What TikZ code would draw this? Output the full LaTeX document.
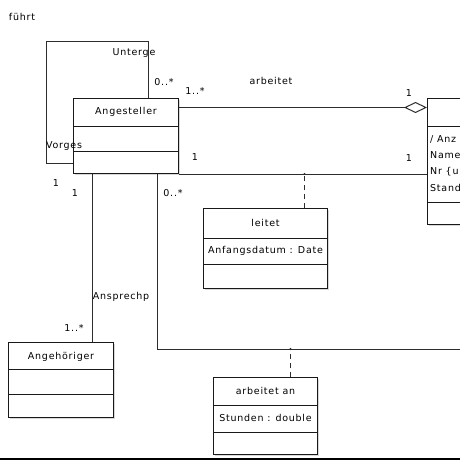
\documentclass[tikz,border=0pt]{standalone}
\usepackage{fontspec}
\setmainfont{DejaVu Sans}[LetterSpace=8]
\usetikzlibrary{positioning,calc,arrows.meta,shadows}
\definecolor{LineGray}{RGB}{45,45,45}
\definecolor{BoxBlack}{RGB}{25,25,25}
\tikzset{
  umlbox/.style={draw=BoxBlack,fill=white,line width=1pt,anchor=north west,
    inner sep=0pt,drop shadow={shadow xshift=1.3pt,shadow yshift=-1.3pt,fill=black!30}},
  sep/.style={draw=BoxBlack,line width=1pt},
  assoc/.style={draw=LineGray,line width=1pt},
  dashline/.style={draw=LineGray,line width=1pt,dash pattern=on 5pt off 4pt},
  txt/.style={font=\fontsize{9.5}{11}\selectfont,inner sep=0pt},
  attr/.style={txt,anchor=west},
}

\begin{document}
\begin{tikzpicture}[x=1pt,y=-1pt]
  \useasboundingbox (0,0) rectangle (460,460);
  \clip (0,0) rectangle (460,460);
  \coordinate (loopTL) at (46,42);
  \coordinate (farR) at (475,349);
  \node[umlbox,minimum width=105pt,minimum height=75pt] (ang) at (73,98) {};
  \node[umlbox,minimum width=100pt,minimum height=126pt] (abt) at (427,98) {};
  \node[umlbox,minimum width=124pt,minimum height=80pt] (leitet) at (203,208) {};
  \node[umlbox,minimum width=104pt,minimum height=77pt] (arb) at (213,377) {};
  \node[umlbox,minimum width=105pt,minimum height=75pt] (angh) at (8,342) {};
  \foreach \n/\a/\b in {ang/28/53,abt/28/104,leitet/30/56,arb/28/55,angh/27/52}{
    \draw[sep] ([yshift=-\a pt]\n.north west) -- ([yshift=-\a pt]\n.north east);
    \draw[sep] ([yshift=-\b pt]\n.north west) -- ([yshift=-\b pt]\n.north east);
  }
  \node[txt] (angT) at ([yshift=-14pt]ang.north) {Angesteller};
  \node[txt] (leitetT) at ([yshift=-15pt]leitet.north) {leitet};
  \node[txt] (leitetA) at ([yshift=-43pt]leitet.north) {Anfangsdatum : Date};
  \node[txt] (arbT) at ([yshift=-14pt]arb.north) {arbeitet an};
  \node[txt] (arbA) at ([yshift=-41pt]arb.north) {Stunden : double};
  \node[txt] (anghT) at ([yshift=-15pt]angh.north) {Angehöriger};
  \node[attr] (abtA) at ([xshift=3pt,yshift=-41pt]abt.north west) {/ Anz};
  \node[attr] (abtB) at ([xshift=3pt,yshift=-57pt]abt.north west) {Name};
  \node[attr] (abtC) at ([xshift=3pt,yshift=-74pt]abt.north west) {Nr \{ur};
  \node[attr] (abtD) at ([xshift=3pt,yshift=-90pt]abt.north west) {Stand};

  \draw[assoc] ([xshift=22.5pt]ang.north) |- (loopTL) |- ([yshift=-27.5pt]ang.west);
  \draw[assoc,-{Diamond[open,length=23pt,width=11pt]}]
    ([yshift=28.5pt]ang.east) -- ([yshift=28.5pt]ang.east -| abt.west);
  \draw[assoc] (ang.south east) -- (ang.south east -| abt.west);
  \draw[dashline] ([xshift=39pt]leitet.north) -- ([xshift=39pt]leitet.north |- ang.south);
  \draw[assoc] ([xshift=-33.5pt]ang.south) -- ([xshift=-33.5pt]ang.south |- angh.north);
  \draw[assoc] ([xshift=31.5pt]ang.south) |- (farR);
  \draw[dashline] ([xshift=25pt]arb.north) -- ([xshift=25pt]arb.north |- farR);
  \fill[LineGray] ([xshift=39pt]leitet.north |- ang.south) circle (1.2pt);
  \fill[LineGray] ([xshift=25pt]arb.north |- farR) circle (1.2pt);

  \node[txt] (fuehrt) at (22,17) {führt};
  \node[txt] (unterge) at (134,53) {Unterge};
  \node[txt] (vorges) at (64,146) {Vorges};
  \node[txt] (arbeitet) at (271,81) {arbeitet};
  \node[txt] (ansprechp) at (121,297) {Ansprechp};
  \node[txt] (mU) at (164,82) {0..*};
  \node[txt] (mA) at (195,91) {1..*};
  \node[txt] (mV) at (56,183) {1};
  \node[txt] (mS) at (75,193) {1};
  \node[txt] (mP) at (173,193) {0..*};
  \node[txt] (mL) at (195,157) {1};
  \node[txt] (mD) at (409,93) {1};
  \node[txt] (mR) at (409,158) {1};
  \node[txt] (mH) at (74,328) {1..*};

  \draw[line width=1.6pt,black] (0,458.8) -- (460,458.8);
\end{tikzpicture}
\end{document}
